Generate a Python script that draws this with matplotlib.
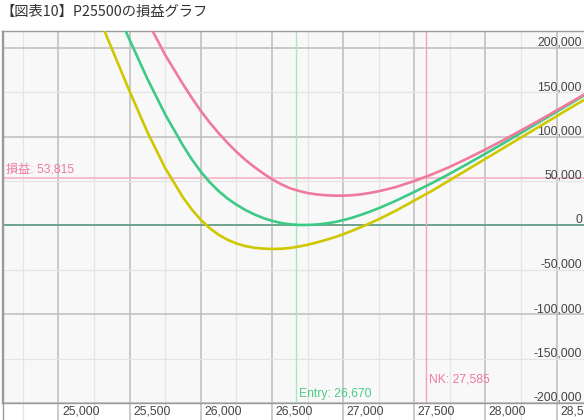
import matplotlib.pyplot as plt
from matplotlib.ticker import MultipleLocator
from matplotlib.lines import Line2D

plt.rcParams['font.family'] = ['Liberation Sans', 'Noto Sans CJK JP']

# --- data ---
price = [25300, 25375, 25500, 25625, 25750, 25875, 25938, 26000, 26062,
         26125, 26188, 26250, 26312, 26375, 26438, 26500, 26562, 26625,
         26688, 26750, 26812, 26875, 26938, 27000, 27062, 27125, 27188,
         27250, 27312, 27375, 27500, 27625, 27750, 27875, 28000, 28125,
         28250, 28375, 28500, 28625, 28700]
pl_yellow = [228000, 199000, 151000, 105000, 64500, 31500, 17800, 6300,
             -3000, -10500, -16200, -20300, -23200, -25100, -26100, -26500,
             -26300, -25400, -23800, -21800, -19300, -16500, -13400, -10000,
             -6100, -2000, 2400, 7000, 11900, 17000, 28000, 39000, 51000,
             63000, 75000, 87000, 99000, 111000, 123000, 135000, 142000]
pl_green = [281000, 254000, 209000, 165000, 125000, 90000, 74200, 60600,
            48800, 38700, 30300, 23400, 17500, 12500, 8400, 5200, 2800, 1300,
            550, 550, 1000, 2100, 3700, 5900, 8600, 11900, 15500, 19400,
            23600, 28100, 37700, 47700, 58300, 69400, 80800, 92400, 104200,
            116100, 128000, 139900, 147000]
pl_pink = [330000, 310000, 268000, 230000, 192000, 159000, 143500, 129000,
           116000, 104000, 93000, 83000, 74000, 66000, 58700, 52000, 46600,
           42000, 38900, 36500, 35000, 34000, 33600, 33500, 34000, 35000,
           36600, 38500, 40800, 43500, 50000, 57500, 66000, 75500, 85500,
           96000, 107000, 118000, 129500, 141000, 148000]

entry = 26670
nk = 27585
pl_now = 53815

x_ticks = [25000, 25500, 26000, 26500, 27000, 27500, 28000, 28500]
x_labels = ['25,000', '25,500', '26,000', '26,500', '27,000', '27,500',
            '28,000', '28,500']
y_ticks = [200000, 150000, 100000, 50000, 0, -50000, -100000, -150000,
           -200000]
y_labels = ['200,000', '150,000', '100,000', '50,000', '0', '-50,000',
            '-100,000', '-150,000', '-200,000']

# --- figure ---
fig = plt.figure(figsize=(5.84, 4.2), dpi=100)
ax = fig.add_axes([2 / 584, 1 - 403 / 420, 582 / 584, 372 / 420])
ax.set_facecolor('#f8f8f8')
ax.set_xlim(24603, 28693)
ax.set_ylim(-200000, 219000)

ax.xaxis.set_major_locator(MultipleLocator(500))
ax.xaxis.set_minor_locator(MultipleLocator(250))
ax.yaxis.set_major_locator(MultipleLocator(100000))
ax.yaxis.set_minor_locator(MultipleLocator(50000))
ax.grid(which='major', color='#bdbdbd', lw=1.1)
ax.grid(which='minor', color='#e4e4e4', lw=0.9)
ax.set_axisbelow(True)
ax.tick_params(axis='x', which='major', direction='out', length=12.5,
               width=1.1, color='#bdbdbd', labelbottom=False)
ax.tick_params(axis='x', which='minor', direction='out', length=12.5,
               width=0.9, color='#e4e4e4')
ax.tick_params(axis='y', which='both', length=0, labelleft=False)

for side in ['left', 'top', 'bottom']:
  ax.spines[side].set_color('#9a9a9a')
  ax.spines[side].set_linewidth(1.0)
ax.spines['right'].set_visible(False)

# reference lines
ax.axhline(0, color='#5f9e85', lw=1.2, zorder=2)
ax.axhline(pl_now, color='#f5b3c6', lw=1.2, zorder=2)
ax.axvline(entry, color='#a6e8bd', lw=1.0, zorder=2)
ax.axvline(nk, color='#f2a3bb', lw=1.0, zorder=2)

# P/L curves
ax.plot(price, pl_green, color='#3ccb86', lw=1.9, zorder=3)
ax.plot(price, pl_yellow, color='#cfc800', lw=1.9, zorder=4)
ax.plot(price, pl_pink, color='#f07a9f', lw=1.9, zorder=5)

# labels
ax.annotate(f'損益: {pl_now:,}', xy=(0, pl_now),
            xycoords=('axes fraction', 'data'), xytext=(3, 3.5),
            textcoords='offset points', ha='left', va='baseline',
            fontsize=8.7, color='#f07a9f')
ax.annotate(f'Entry: {entry:,}', xy=(entry, 0),
            xycoords=('data', 'axes fraction'), xytext=(2, 4.5),
            textcoords='offset points', ha='left', va='baseline',
            fontsize=8.7, color='#4ccc85')
ax.annotate(f'NK: {nk:,}', xy=(nk, 0),
            xycoords=('data', 'axes fraction'), xytext=(2, 14.5),
            textcoords='offset points', ha='left', va='baseline',
            fontsize=8.7, color='#f07a9f')

for t, lbl in zip(x_ticks, x_labels):
  ax.annotate(lbl, xy=(t, 0), xycoords=('data', 'axes fraction'),
              xytext=(2.5, -2), textcoords='offset points', ha='left',
              va='top', fontsize=8.7, color='#444444', annotation_clip=False)

for t, lbl in zip(y_ticks, y_labels):
  ax.annotate(lbl, xy=(1, t), xycoords=('axes fraction', 'data'),
              xytext=(-1.5, 1.5), textcoords='offset points', ha='right',
              va='baseline', fontsize=8.7, color='#444444',
              annotation_clip=False)

fig.add_artist(Line2D([2.5 / 584, 2.5 / 584], [0, 1 - 31 / 420],
                      color='#9a9a9a', lw=1.0))

fig.text(0.0, 1 - 12 / 420, '【図表10】P25500の損益グラフ', ha='left',
         va='center', fontsize=10.3, color='#333333',
         family=['Noto Sans CJK JP', 'DejaVu Sans'])

fig.savefig('out.png', dpi=100)
